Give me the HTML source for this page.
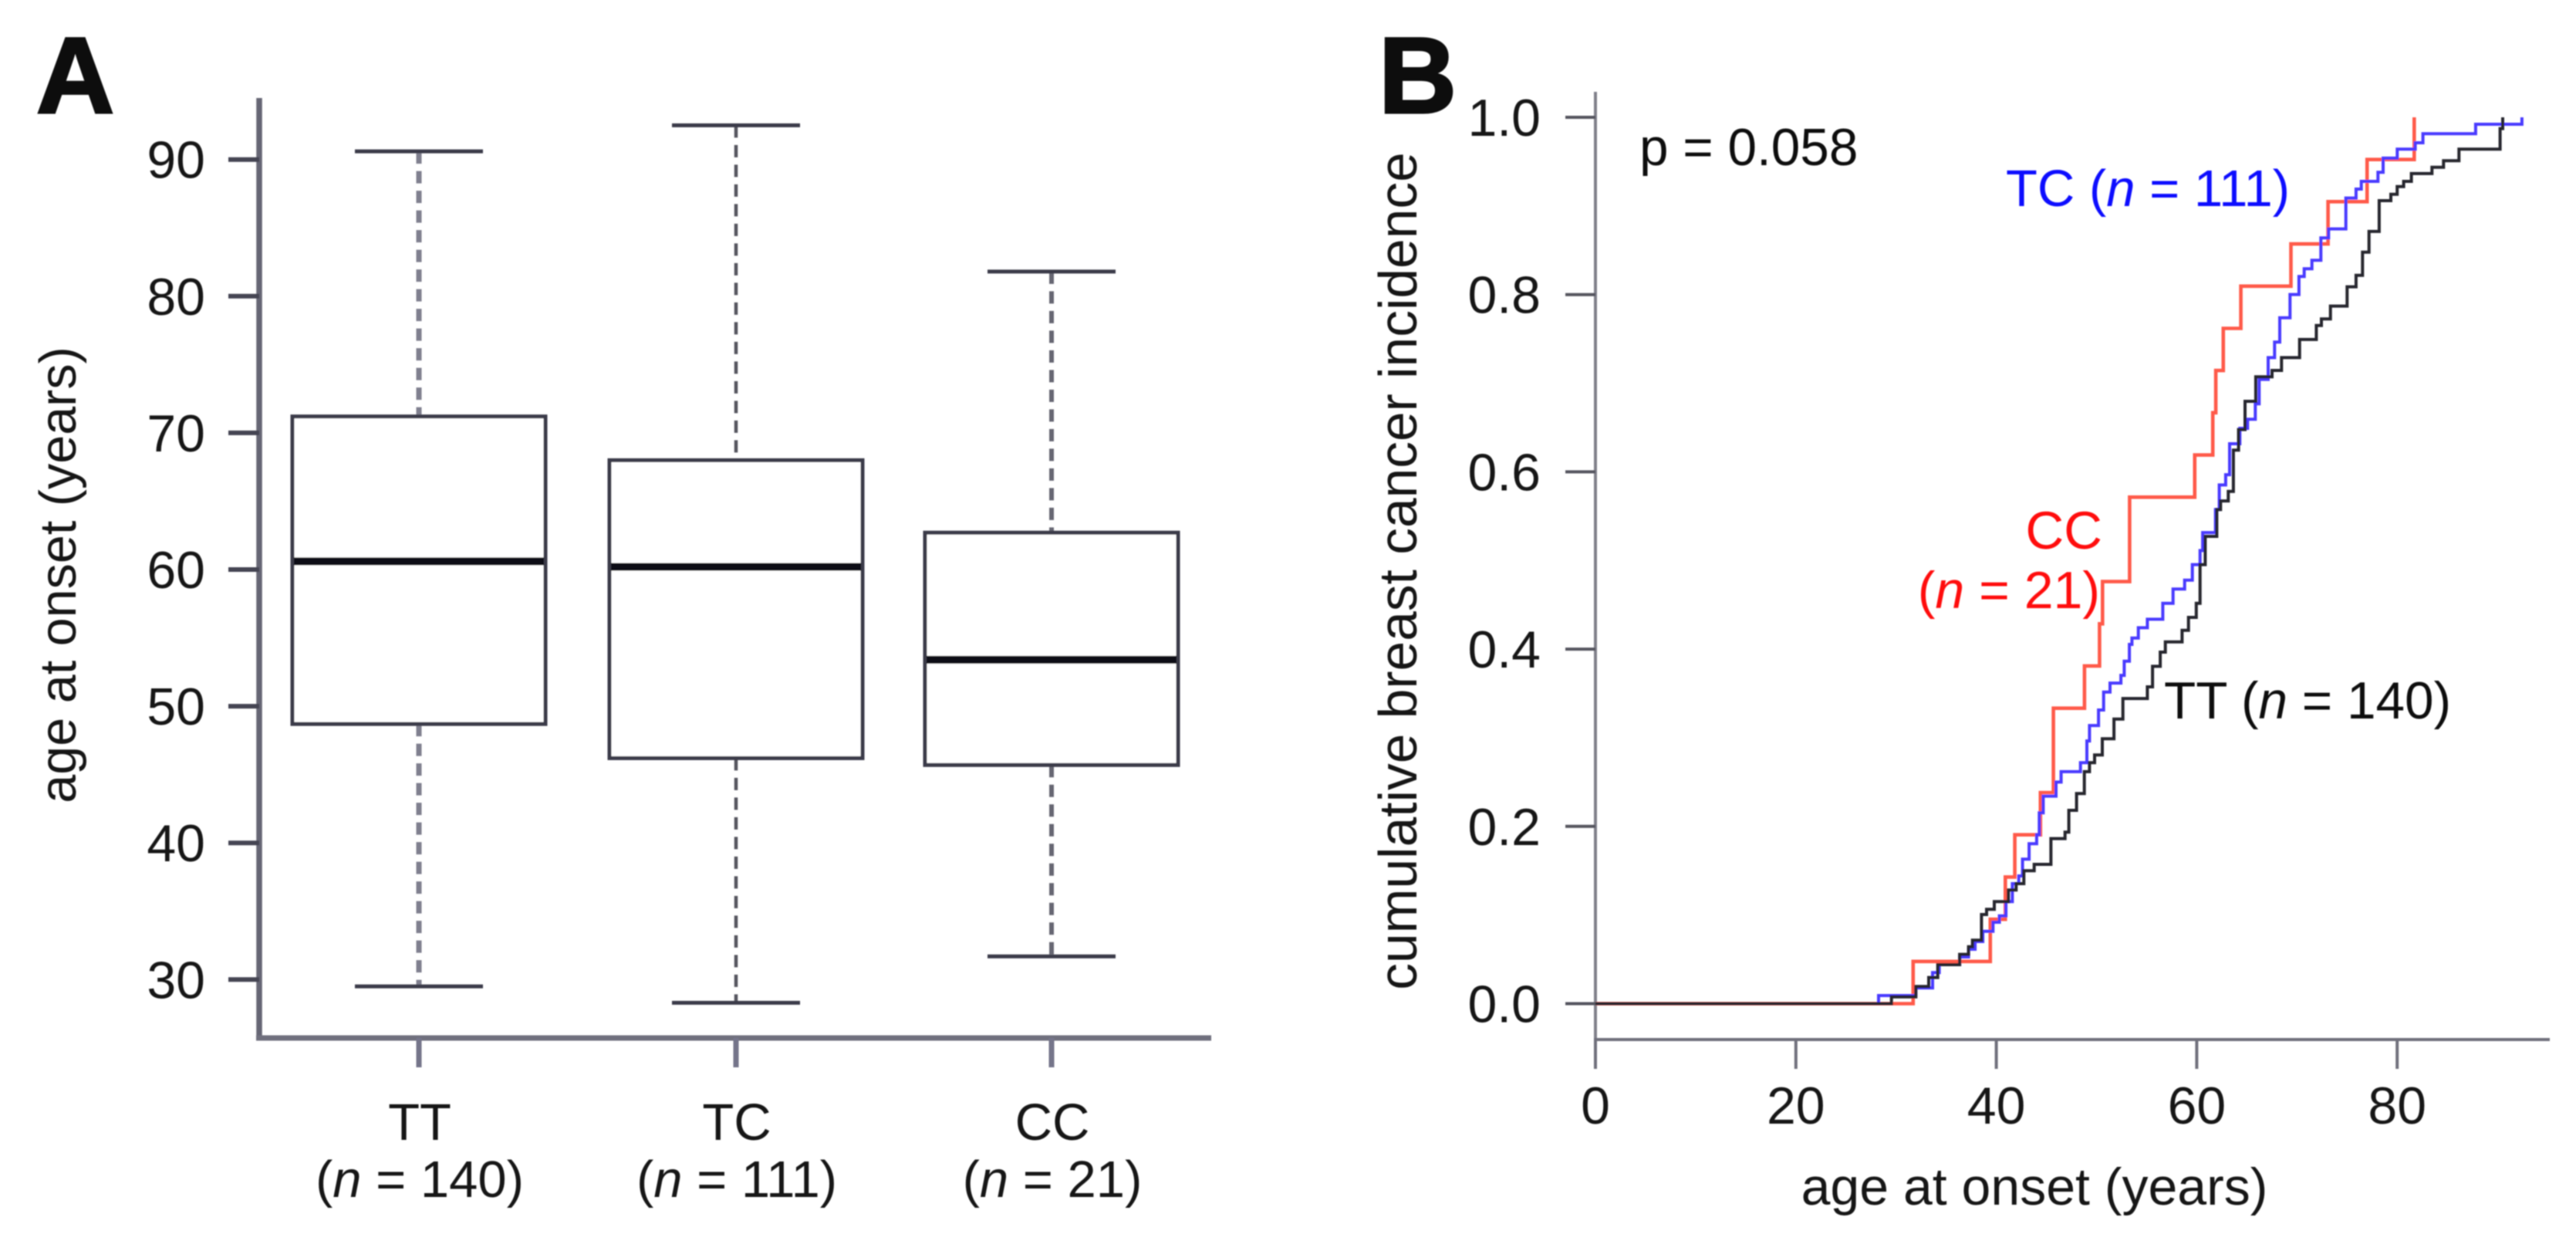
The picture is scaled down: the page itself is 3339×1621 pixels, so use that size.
<!DOCTYPE html>
<html lang="en">
<head>
<meta charset="utf-8">
<title>Age at onset by genotype</title>
<style>
html,body{margin:0;padding:0;background:#fff;}
svg{display:block;}
text{font-family:"Liberation Sans",Arial,sans-serif;}
</style>
</head>
<body>
<svg id="fig" xmlns="http://www.w3.org/2000/svg" width="3339" height="1621" viewBox="0 0 3339 1621">
  <defs><filter id="soft" x="-5%" y="-5%" width="110%" height="110%"><feGaussianBlur stdDeviation="0.9"/></filter></defs>
  <rect x="0" y="0" width="3339" height="1621" fill="#ffffff"/>
  <g id="root" filter="url(#soft)">
    <text x="47" y="146" font-size="140" font-weight="bold" fill="#0c0c0c" stroke="#0c0c0c" stroke-width="3">A</text>
    <text x="1787" y="146" font-size="140" font-weight="bold" fill="#0c0c0c" stroke="#0c0c0c" stroke-width="3">B</text>
    <text transform="translate(98,745) rotate(-90)" text-anchor="middle" font-size="66.5" fill="#151515">age at onset (years)</text>
    <text transform="translate(1836,740) rotate(-90)" text-anchor="middle" font-size="69.5" fill="#151515">cumulative breast cancer incidence</text>
    <text x="2637" y="1561" text-anchor="middle" font-size="68" fill="#151515">age at onset (years)</text>
    <text x="2125" y="214" font-size="67.5" fill="#0c0c0c">p = 0.058</text>
    <text x="2600" y="267" font-size="67" fill="#1010ff">TC (<tspan font-style="italic">n</tspan> = 111)</text>
    <text x="2725" y="711" text-anchor="end" font-size="69" fill="#ff0f0f">CC</text>
    <text x="2722" y="788" text-anchor="end" font-size="68" fill="#ff0f0f">(<tspan font-style="italic">n</tspan> = 21)</text>
    <text x="2805" y="931" font-size="67.5" fill="#0c0c0c">TT (<tspan font-style="italic">n</tspan> = 140)</text>
    <g id="panelA"></g>
    <g id="panelB"></g>
  </g>
</svg>
<script>
// Panel A values
const boxCategories = ['TT', 'TC', 'CC'];
const boxCounts = [140, 111, 21];
const whiskerHigh = [90.6, 92.5, 81.8];
const boxTop = [71.2, 68.0, 62.7];
const boxMedian = [60.6, 60.2, 53.4];
const boxBottom = [48.7, 46.2, 45.7];
const whiskerLow = [29.5, 28.3, 31.7];
const ageTicks = [30, 40, 50, 60, 70, 80, 90];

// Panel B values
const incidenceXTicks = [0, 20, 40, 60, 80];
const incidenceYTicks = ['0.0', '0.2', '0.4', '0.6', '0.8', '1.0'];
const ccAges = [31.7,39.4,40.9,41.85,44.4,45.7,45.7,48.8,50.3,50.6,53.3,53.3,59.8,61.6,61.9,62.65,64.4,69.4,73.1,77,81.7];
const ccValues = [0.0476,0.0952,0.1429,0.1905,0.2381,0.2857,0.3333,0.381,0.4286,0.4762,0.5238,0.5714,0.619,0.6667,0.7143,0.7619,0.8095,0.8571,0.9048,0.9524,1.0];
const tcAges = [28.25,31.97,33.64,34.3,36.34,37.23,37.88,38.65,39.67,40.31,40.96,41.6,42.24,42.62,43.27,44.03,44.29,44.68,45.96,46.47,48.4,49.04,49.3,50.2,50.71,51.35,52.43,52.76,53.28,53.53,54.17,55.07,56.61,57.64,58.79,59.56,60.33,60.59,61.87,62.25,62.89,63.28,64.3,65.07,65.84,66.23,67.13,67.77,68.28,69.31,70.2,70.72,71.49,72.39,73.16,74.88,75.9,76.42,78.08,78.6,80.01,81.8,82.57,87.83,92.45];
const tcValues = [0.0091,0.0178,0.035,0.044,0.0527,0.0614,0.0701,0.0817,0.0919,0.0991,0.1151,0.1354,0.1441,0.163,0.1804,0.1906,0.2152,0.2341,0.25,0.2617,0.2718,0.2964,0.3138,0.3313,0.3516,0.3617,0.3704,0.3864,0.4053,0.4125,0.4241,0.4337,0.4517,0.4677,0.4778,0.4953,0.5112,0.5315,0.5575,0.5852,0.5968,0.6317,0.6491,0.6593,0.6767,0.7043,0.7289,0.7464,0.7739,0.8001,0.8204,0.8291,0.8387,0.8639,0.8741,0.9089,0.919,0.9277,0.9379,0.9539,0.964,0.9713,0.9815,0.9922,1.0];
const ttAges = [29.54,31.97,33.26,34.16,36.34,37.23,37.62,38.52,39.03,39.8,41.21,41.98,42.75,43.78,45.45,46.86,47.24,48.01,48.78,49.3,49.81,50.58,51.74,52.63,55.07,55.59,56.36,56.87,58.54,59.18,59.95,60.33,60.85,62,62.38,63.15,63.66,64.17,64.82,65.89,67.51,68.46,70.26,71.93,72.44,73.34,75,75.9,76.54,77.19,78.21,79.37,80,80.65,81.42,83.47,84.63,86.17,90.27,90.53];
const ttValues = [0.0077,0.0193,0.0295,0.044,0.0556,0.0643,0.0716,0.1006,0.1064,0.1151,0.1282,0.1354,0.15,0.1572,0.1862,0.1935,0.2181,0.237,0.2617,0.2718,0.2805,0.2988,0.3211,0.3443,0.3574,0.3806,0.3966,0.4082,0.4212,0.4358,0.4517,0.4953,0.5272,0.5575,0.5672,0.578,0.6245,0.6477,0.6796,0.7072,0.7144,0.7289,0.7493,0.7652,0.7725,0.787,0.8088,0.8218,0.8479,0.8712,0.906,0.9132,0.9219,0.9277,0.9365,0.9437,0.951,0.964,0.9873,1.0];

const NS = 'http://www.w3.org/2000/svg';
const panelA = document.getElementById('panelA');
const panelB = document.getElementById('panelB');

function make(tag, parent, attrs) {
  const node = document.createElementNS(NS, tag);
  for (const k in attrs) node.setAttribute(k, attrs[k]);
  parent.appendChild(node);
  return node;
}
function line(parent, x1, y1, x2, y2, stroke, width, dash) {
  const attrs = {x1: x1, y1: y1, x2: x2, y2: y2, stroke: stroke, 'stroke-width': width};
  if (dash) attrs['stroke-dasharray'] = dash;
  return make('line', parent, attrs);
}

// Panel A axes
const boxCenters = [543, 954, 1363];
const boxHalf = 164;
const capHalf = 83;
const yA = v => 1269.3 - (v - 30) * 17.71;
const whiskerColors = ['#80808f', '#55555f', '#666672'];
const whiskerWidths = [7, 4.5, 6];

let el = line(panelA, 336, 127, 336, 1348, '#666674', 7.5);


el = line(panelA, 332, 1345, 1570, 1345, '#70707e', 7);



ageTicks.forEach(function (t) {
  const y = yA(t);
  let m = line(panelA, 296, y, 336, y, '#444452', 6);
  
  
  m = make('text', panelA, {x: 266, y: y + 24, 'text-anchor': 'end', 'font-size': 68, fill: '#121212'});
  m.textContent = String(t);
  
  
});

boxCategories.forEach(function (cat, i) {
  const cx = boxCenters[i];
  const col = whiskerColors[i];
  const w = whiskerWidths[i];

  let m = line(panelA, cx, yA(whiskerHigh[i]), cx, yA(boxTop[i]), col, w, '16 9.5');
  
  
  m = line(panelA, cx, yA(boxBottom[i]), cx, yA(whiskerLow[i]), col, w, '16 9.5');
  
  
  m = line(panelA, cx - capHalf, yA(whiskerHigh[i]), cx + capHalf, yA(whiskerHigh[i]), '#3a3a48', 5);
  
  
  m = line(panelA, cx - capHalf, yA(whiskerLow[i]), cx + capHalf, yA(whiskerLow[i]), '#3a3a48', 5);
  
  

  m = make('rect', panelA, {x: cx - boxHalf, y: yA(boxTop[i]), width: boxHalf * 2, height: yA(boxBottom[i]) - yA(boxTop[i]), fill: '#ffffff', stroke: '#3a3a48', 'stroke-width': 5});
  
  
  m = line(panelA, cx - boxHalf + 2, yA(boxMedian[i]), cx + boxHalf - 2, yA(boxMedian[i]), '#101016', 10);
  
  

  m = line(panelA, cx, 1345, cx, 1383, '#74748a', 7);
  
  

  m = make('text', panelA, {x: cx + 1, y: 1477, 'text-anchor': 'middle', 'font-size': 67, fill: '#121212'});
  m.textContent = cat;
  
  

  m = make('text', panelA, {x: cx + 1, y: 1551, 'text-anchor': 'middle', 'font-size': 67, fill: '#121212'});
  m.appendChild(document.createTextNode('('));
  const it = make('tspan', m, {'font-style': 'italic'});
  it.textContent = 'n';
  m.appendChild(document.createTextNode(' = ' + boxCounts[i] + ')'));
  
  
});

// Panel B axes
const xB = a => 2068 + a * 12.99;
const yB = f => 1300.5 - f * 1148.5;

let ax = line(panelB, 2068, 119, 2068, 1349, '#80808a', 4);


ax = line(panelB, 2066, 1347, 3305, 1347, '#70707c', 4);



incidenceYTicks.forEach(function (label) {
  const y = yB(parseFloat(label));
  let m = line(panelB, 2029, y, 2068, y, '#55555f', 4);
  
  
  m = make('text', panelB, {x: 1997, y: y + 24, 'text-anchor': 'end', 'font-size': 68, fill: '#121212'});
  m.textContent = label;
  
  
});
incidenceXTicks.forEach(function (t) {
  const x = xB(t);
  let m = line(panelB, x, 1347, x, 1385, '#70707c', 4);
  
  
  m = make('text', panelB, {x: x, y: 1456, 'text-anchor': 'middle', 'font-size': 68, fill: '#121212'});
  m.textContent = String(t);
  
  
});

function stepPath(ages, values) {
  let d = 'M' + xB(0) + ' ' + yB(0);
  ages.forEach(function (a, i) {
    d += ' H' + xB(a).toFixed(1) + ' V' + yB(values[i]).toFixed(1);
  });
  return d;
}

let curve = make('path', panelB, {d: stepPath(ccAges, ccValues), fill: 'none', stroke: '#ff5a4a', 'stroke-width': 4.6, 'stroke-linejoin': 'miter'});


curve = make('path', panelB, {d: stepPath(tcAges, tcValues), fill: 'none', stroke: '#4a3aff', 'stroke-width': 4, 'stroke-linejoin': 'miter'});


curve = make('path', panelB, {d: stepPath(ttAges, ttValues), fill: 'none', stroke: '#25252e', 'stroke-width': 4, 'stroke-linejoin': 'miter'});


</script>
</body>
</html>
